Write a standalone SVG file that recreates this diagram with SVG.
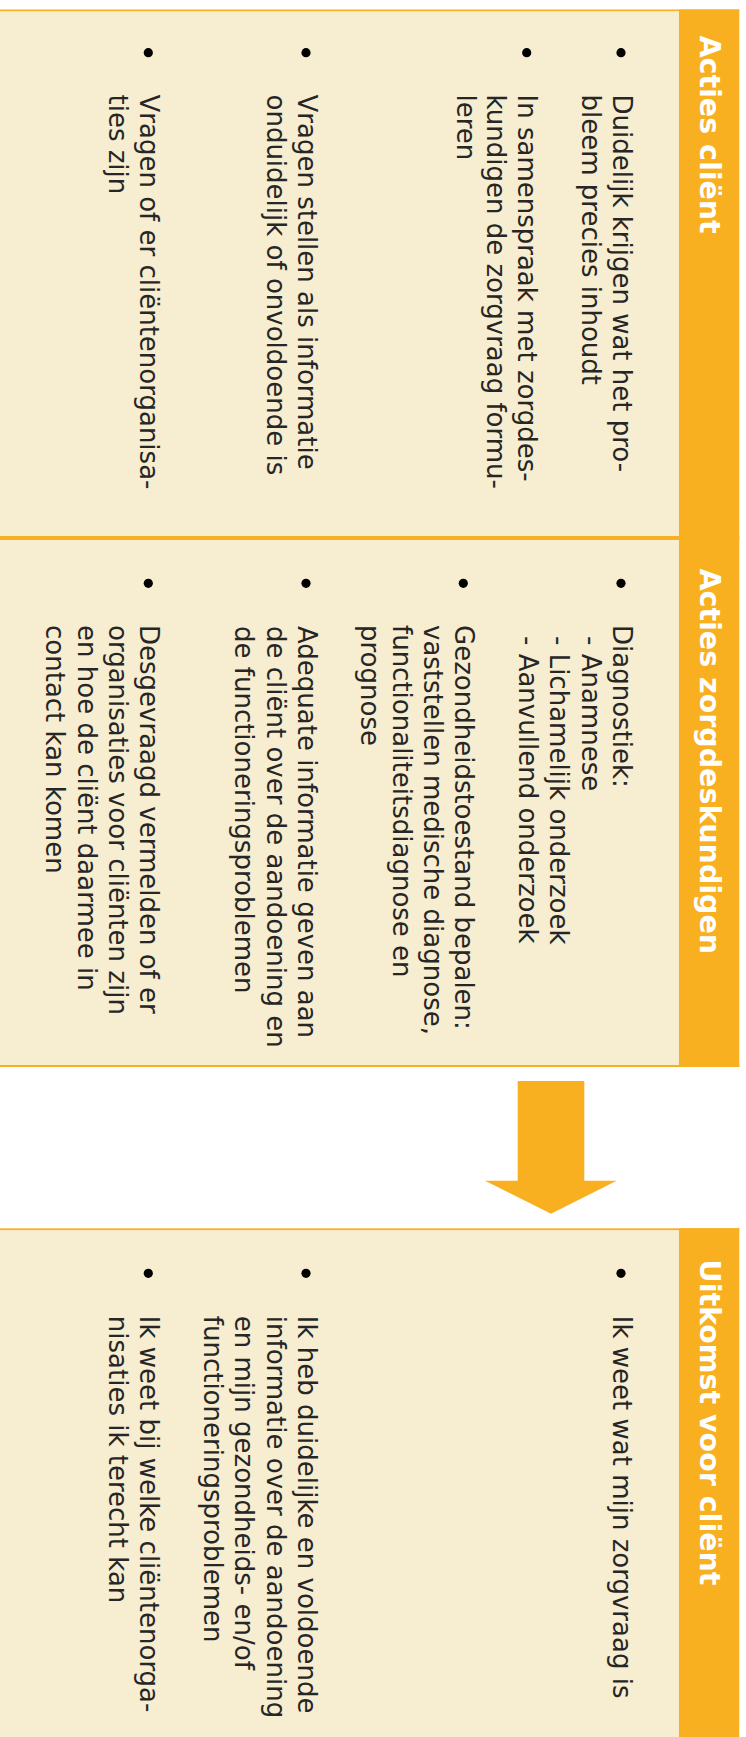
<svg xmlns="http://www.w3.org/2000/svg" width="746" height="1737" viewBox="0 0 746 1737">
<style>
.bg{fill:#ffffff}
.cream{fill:#F7EDD0}
.org{fill:#F8B021}
.t{font-family:"DejaVu Sans","Liberation Sans",sans-serif;font-size:26px;fill:#262626}
.h{font-family:"DejaVu Sans","Liberation Sans",sans-serif;font-size:28.5px;font-weight:bold;fill:#ffffff}
.dot{fill:#000000}
</style>
<rect class="bg" x="0" y="0" width="746" height="1737"/>
<g transform="translate(746,0) rotate(90)">
  <g id="panel-acties-client">
    <rect class="cream" x="11" y="67" width="525" height="679"/>
    <rect class="org" x="9.5" y="6.7" width="528.5" height="60.3"/>
    <rect class="org" x="9.5" y="6.7" width="1.6" height="739.3"/>
    <rect class="org" x="536" y="6.7" width="2" height="739.3"/>
    <text class="h" x="35.5" y="46">Acties cliënt</text>
    <circle class="dot" cx="52.7" cy="125" r="4.6"/>
    <text class="t" x="94.5" y="132.7">Duidelijk krijgen wat het pro-</text>
    <text class="t" x="94.5" y="164.3">bleem precies inhoudt</text>
    <circle class="dot" cx="52.7" cy="219.3" r="4.6"/>
    <text class="t" x="94.5" y="227.7">In samenspraak met zorgdes-</text>
    <text class="t" x="94.5" y="258.6">kundigen de zorgvraag formu-</text>
    <text class="t" x="94.5" y="289.5">leren</text>
    <circle class="dot" cx="52.7" cy="440" r="4.6"/>
    <text class="t" x="94.5" y="448.3">Vragen stellen als informatie</text>
    <text class="t" x="94.5" y="479.4">onduidelijk of onvoldoende is</text>
    <circle class="dot" cx="52.7" cy="597.7" r="4.6"/>
    <text class="t" x="94.5" y="606">Vragen of er cliëntenorganisa-</text>
    <text class="t" x="94.5" y="637.2">ties zijn</text>
  </g>
  <g id="panel-acties-zorgdeskundigen">
    <rect class="cream" x="540" y="67" width="525" height="679"/>
    <rect class="org" x="538" y="6.7" width="529" height="60.3"/>
    <rect class="org" x="538" y="6.7" width="2" height="739.3"/>
    <rect class="org" x="1065" y="6.7" width="2" height="739.3"/>
    <text class="h" x="568.5" y="46">Acties zorgdeskundigen</text>
    <circle class="dot" cx="583.3" cy="125" r="4.6"/>
    <text class="t" x="625" y="133.3">Diagnostiek:</text>
    <text class="t" x="636" y="164.4">- Anamnese</text>
    <text class="t" x="636" y="195.6">- Lichamelijk onderzoek</text>
    <text class="t" x="636" y="226.8">- Aanvullend onderzoek</text>
    <circle class="dot" cx="583.3" cy="282.7" r="4.6"/>
    <text class="t" x="625" y="291">Gezondheidstoestand bepalen:</text>
    <text class="t" x="625" y="322.2">vaststellen medische diagnose,</text>
    <text class="t" x="625" y="353.4">functionaliteitsdiagnose en</text>
    <text class="t" x="625" y="384.6">prognose</text>
    <circle class="dot" cx="583.3" cy="440" r="4.6"/>
    <text class="t" x="626" y="448.3">Adequate informatie geven aan</text>
    <text class="t" x="626" y="479.4">de cliënt over de aandoening en</text>
    <text class="t" x="626" y="510.6">de functioneringsproblemen</text>
    <circle class="dot" cx="583.3" cy="597.7" r="4.6"/>
    <text class="t" x="625" y="606">Desgevraagd vermelden of er</text>
    <text class="t" x="625" y="637.2">organisaties voor cliënten zijn</text>
    <text class="t" x="625" y="668.4">en hoe de cliënt daarmee in</text>
    <text class="t" x="625" y="699.6">contact kan komen</text>
  </g>
  <g id="panel-uitkomst-client">
    <rect class="cream" x="1230" y="67" width="507" height="679"/>
    <rect class="org" x="1228.3" y="6.7" width="508.7" height="60.3"/>
    <rect class="org" x="1228.3" y="6.7" width="1.8" height="739.3"/>
    <text class="h" x="1259.5" y="46">Uitkomst voor cliënt</text>
    <circle class="dot" cx="1273.3" cy="125" r="4.6"/>
    <text class="t" x="1315.8" y="132.7">Ik weet wat mijn zorgvraag is</text>
    <circle class="dot" cx="1273.3" cy="440" r="4.6"/>
    <text class="t" x="1315.8" y="448.3">Ik heb duidelijke en voldoende</text>
    <text class="t" x="1315.8" y="479.4">informatie over de aandoening</text>
    <text class="t" x="1315.8" y="510.6">en mijn gezondheids- en/of</text>
    <text class="t" x="1315.8" y="541.8">functioneringsproblemen</text>
    <circle class="dot" cx="1273.3" cy="597.7" r="4.6"/>
    <text class="t" x="1315.8" y="606">Ik weet bij welke cliëntenorga-</text>
    <text class="t" x="1315.8" y="637.2">nisaties ik terecht kan</text>
  </g>
</g>
<g id="connectors">
  <polygon class="org" points="517.7,1081 584.3,1081 584.3,1180.7 616.7,1180.7 551,1213.7 485,1180.7 517.7,1180.7"/>
</g>
</svg>
